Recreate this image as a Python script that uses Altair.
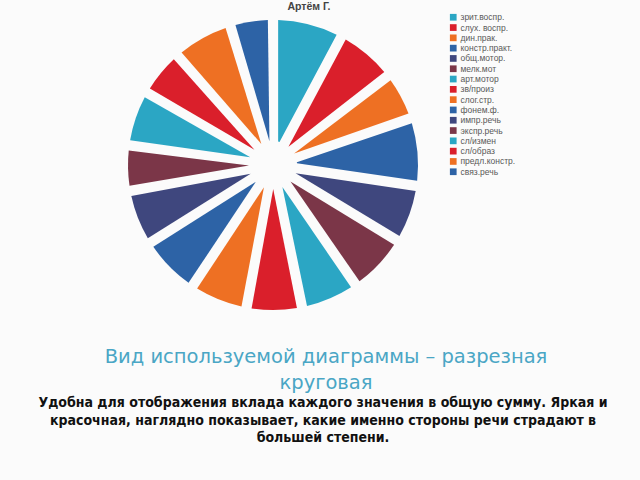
import altair as alt
import pandas as pd

categories = ["зрит.воспр.", "слух. воспр.", "дин.прак.", "констр.практ.", "общ.мотор.",
              "мелк.мот", "арт.мотор", "зв/произ", "слог.стр.", "фонем.ф.",
              "импр.речь", "экспр.речь", "сл/измен", "сл/образ", "предл.констр.", "связ.речь"]
values = [2.8, 2.4, 1.9, 2.7, 2.3, 2.4, 2.3, 2.2, 2.3, 2.4, 2.2, 1.8, 2.2, 1.9, 2.4, 1.7]
colors = ["#2ba6c4", "#da1f2b", "#ee7023", "#2d63a6", "#3f477e", "#7b3648",
          "#2ba6c4", "#da1f2b", "#ee7023", "#2d63a6", "#3f477e", "#7b3648",
          "#2ba6c4", "#da1f2b", "#ee7023", "#2d63a6"]
chart_title = "Артём Г."
heading_lines = ["Вид используемой диаграммы – разрезная", "круговая"]
body_lines = ["Удобна для отображения вклада каждого значения  в общую сумму. Яркая и",
              "красочная, наглядно показывает, какие именно стороны речи страдают в",
              "большей степени."]

df = pd.DataFrame({"cat": categories, "val": values, "idx": list(range(len(categories)))})

pie = alt.Chart(df).mark_arc(outerRadius=145, innerRadius=24, padAngle=0.07, stroke=None).encode(
    theta=alt.Theta("val:Q", stack=True),
    order=alt.Order("idx:Q"),
    color=alt.Color("cat:N", sort=categories,
                    scale=alt.Scale(domain=categories, range=colors),
                    legend=alt.Legend(title=None, orient="none", legendX=449, legendY=13,
                                      symbolType="square", symbolSize=45, symbolStrokeWidth=0,
                                      labelFontSize=8.5, labelColor="#595959", labelFont="Liberation Sans",
                                      rowPadding=1.3, labelLimit=200, symbolOffset=0, labelOffset=3)),
    x=alt.value(273), y=alt.value(165),
)

title_df = pd.DataFrame({"t": [chart_title]})
title_mark = alt.Chart(title_df).mark_text(fontSize=10.5, fontWeight="bold", color="#444444",
                                           font="Liberation Sans", align="center", baseline="middle").encode(
    text="t:N", x=alt.value(309), y=alt.value(7))

head_df = pd.DataFrame({"t": heading_lines, "y": [357, 383]})
head_mark = alt.Chart(head_df).mark_text(fontSize=19.5, color="#4aa6c5", font="DejaVu Sans",
                                         align="center", baseline="middle").encode(
    text="t:N", x=alt.value(326), y=alt.Y("y:Q", scale=None))

body_df = pd.DataFrame({"t": body_lines, "y": [403, 421, 438]})
body_mark = alt.Chart(body_df).mark_text(fontSize=14, fontWeight="bold", color="#111111",
                                         font="DejaVu Sans Condensed", align="center",
                                         baseline="middle").encode(
    text="t:N", x=alt.value(323), y=alt.Y("y:Q", scale=None))

chart = alt.layer(pie, title_mark, head_mark, body_mark).properties(
    width=640, height=480, autosize=alt.AutoSizeParams(type="none"), padding=0,
    background="#fbfbfb"
).configure_view(stroke=None)

chart.save("out.html", embed_options={"renderer": "svg", "actions": False})
